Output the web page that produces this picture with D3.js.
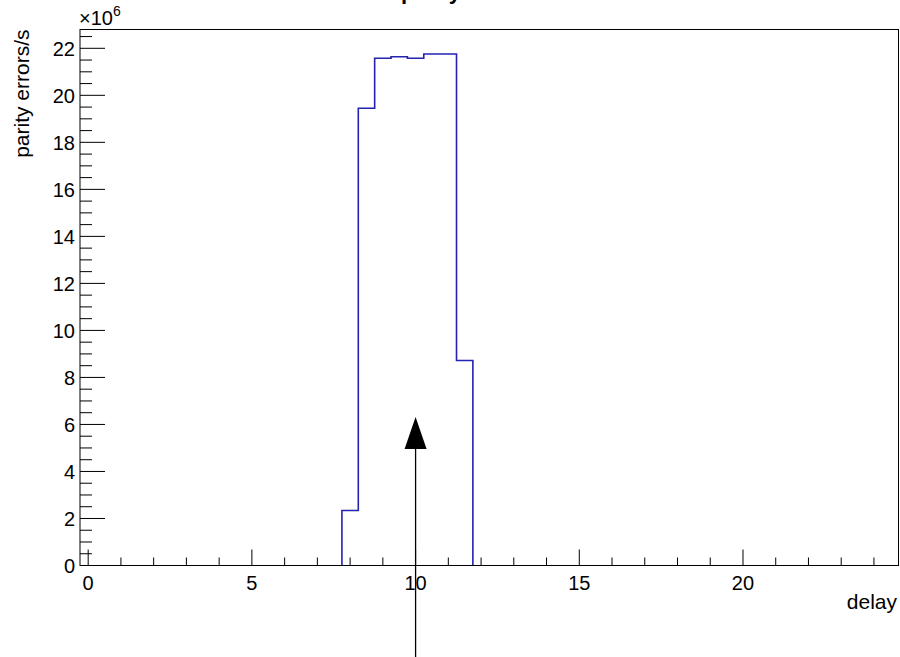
<!DOCTYPE html>
<html><head><meta charset="utf-8">
<script src="https://cdn.jsdelivr.net/npm/d3@7"></script>
<style>body{margin:0;background:#fff}svg{display:block}</style>
</head><body>
<svg id="c" width="900" height="657"></svg>
<script>
// Data (values in units of 10^6 parity errors/s)
const binLowEdges = [7.75, 8.25, 8.75, 9.25, 9.75, 10.25, 10.75, 11.25];
const binValues   = [2.34, 19.45, 21.58, 21.64, 21.58, 21.76, 21.76, 8.72];
const binWidth = 0.5;
const xDomain = [-0.25, 24.75];
const yDomain = [0, 22.8];
const xMajorTicks = [0, 5, 10, 15, 20];
const yMajorTicks = [0, 2, 4, 6, 8, 10, 12, 14, 16, 18, 20, 22];
const arrowX = 10;
const titleText = "parity";
const xTitle = "delay";
const yTitle = "parity errors/s";

const svg = d3.select("#c");
const L = 80, R = 898.5, T = 29.5, B = 565.5;
const x = d3.scaleLinear().domain(xDomain).range([L, R]);
const y = d3.scaleLinear().domain(yDomain).range([B, T]);
const font = "'Liberation Sans', Arial, Helvetica, sans-serif";

// title (mostly cut off at top, as in the reference)
svg.append("text").attr("x", 431).attr("y", -1).attr("text-anchor", "middle")
  .attr("font-family", font).attr("font-weight", "bold").attr("font-size", 22)
  .text(titleText);

// histogram step path (only between first and last non-empty bin edges)
const pts = [];
binLowEdges.forEach((e, i) => {
  pts.push([x(e), y(i === 0 ? 0 : binValues[i - 1])]);
  pts.push([x(e), y(binValues[i])]);
});
const lastEdge = binLowEdges[binLowEdges.length - 1] + binWidth;
pts.push([x(lastEdge), y(binValues[binValues.length - 1])]);
pts.push([x(lastEdge), y(0)]);
svg.append("path").attr("d", d3.line()(pts)).attr("fill", "none")
  .attr("stroke", "#2323b0").attr("stroke-width", 1.6);

// frame
svg.append("rect").attr("x", L).attr("y", T).attr("width", R - L).attr("height", B - T)
  .attr("fill", "none").attr("stroke", "#000").attr("stroke-width", 1);

// x axis ticks
const xMinor = d3.range(0, 25, 1);
const gx = svg.append("g").attr("stroke", "#000").attr("stroke-width", 1);
xMinor.forEach(v => {
  const major = xMajorTicks.includes(v);
  gx.append("line").attr("x1", x(v)).attr("x2", x(v)).attr("y1", B).attr("y2", B - (major ? 16 : 8));
});
svg.append("g").selectAll("text").data(xMajorTicks).join("text")
  .attr("x", d => x(d)).attr("y", 590).attr("text-anchor", "middle")
  .attr("font-family", font).attr("font-size", 20).text(d => d);

// y axis ticks
const yMinor = d3.range(0, 22.51, 0.5);
const gy = svg.append("g").attr("stroke", "#000").attr("stroke-width", 1);
yMinor.forEach(v => {
  const major = yMajorTicks.includes(v);
  gy.append("line").attr("x1", L).attr("x2", L + (major ? 25 : 12)).attr("y1", y(v)).attr("y2", y(v));
});
svg.append("g").selectAll("text").data(yMajorTicks).join("text")
  .attr("x", 75).attr("y", d => y(d)).attr("dy", "0.36em").attr("text-anchor", "end")
  .attr("font-family", font).attr("font-size", 20).text(d => d);

// exponent
const ex = svg.append("text").attr("x", 79).attr("y", 25).attr("font-family", font).attr("font-size", 20);
ex.append("tspan").text("\u00d710");
ex.append("tspan").attr("dy", -9).attr("font-size", 14).text("6");

// axis titles
svg.append("text").attr("x", 897).attr("y", 609).attr("text-anchor", "end")
  .attr("font-family", font).attr("font-size", 21).text(xTitle);
svg.append("text").attr("transform", `translate(29,${T}) rotate(-90)`).attr("text-anchor", "end")
  .attr("font-family", font).attr("font-size", 21).text(yTitle);

// arrow
const ax = x(arrowX);
svg.append("line").attr("x1", ax).attr("x2", ax).attr("y1", 657).attr("y2", 449)
  .attr("stroke", "#000").attr("stroke-width", 1.3);
svg.append("path").attr("d", `M${ax},417 L${ax - 11},449 L${ax + 11},449 Z`).attr("fill", "#000");
</script>
</body></html>
